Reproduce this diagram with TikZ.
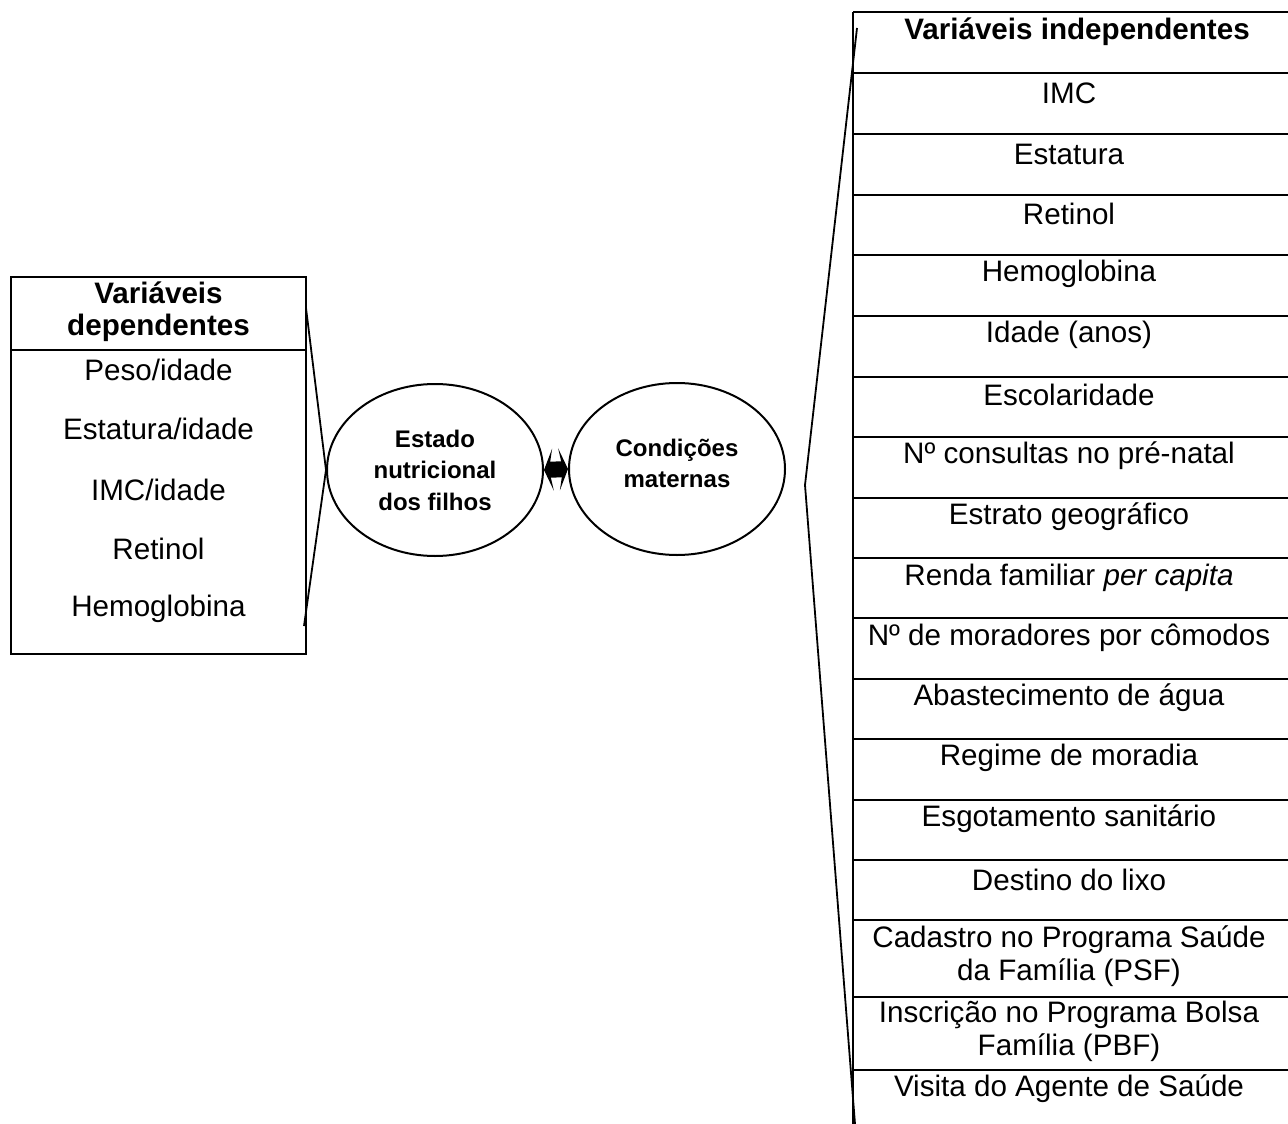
\documentclass[tikz,border=0pt]{standalone}
\usepackage{fontspec}
\setmainfont{Liberation Sans}
\usetikzlibrary{shapes.geometric,arrows.meta}

\begin{document}
\begin{tikzpicture}[
	x=1pt,y=-1pt,
	vtext/.style={inner sep=0pt,align=center,font=\fontsize{29.6}{33}\selectfont},
	vhead/.style={vtext,font=\fontsize{29.6}{32}\selectfont\bfseries},
	enode/.style={ellipse,draw,line width=2pt,inner sep=0pt,minimum width=216,minimum height=172,
		align=center,font=\fontsize{24}{31.5}\selectfont\bfseries},
	gline/.style={draw=black,line width=2.6pt},
	bline/.style={draw=black,line width=1.8pt},
	biarrow/.style={line width=16pt,{Stealth[length=9pt,width=42pt,inset=4pt]}-{Stealth[length=9pt,width=42pt,inset=4pt]}}
	]
	\useasboundingbox (0,0) rectangle (1288,1124);
	% dependentes
	\draw[gline] (11,277) rectangle (306,654);
	\draw[gline] (11,350) -- (306,350);
	\node[vhead] (dh) at (158.5,312) {Variáveis\\dependentes};
	\foreach \i/\y/\t in {1/370/{Peso/idade},2/429/{Estatura/idade},3/490/{IMC/idade},4/549/Retinol,5/609/Hemoglobina}{
		\node[vtext] (d\i) at (158.5,\y) {\t};
	}
	% elipses
	\node[enode] (e1) at (435,470) {Estado\\nutricional\\dos filhos};
	\node[enode] (e2) at (677,469) {Condições\\maternas\\[-20pt]};
	\draw[biarrow] (e1.east) -- (e2.west);
	% independentes
	\foreach \y in {12,73,134,195,255,316,377,437,498,558,618,679,739,800,860,920,997,1070}{
		\draw[gline] (853,\y) -- (1288,\y);
	}
	\draw[gline] (853,12) -- (853,1124);
	\node[vhead] (ih) at (1077,32) {Variáveis independentes};
	\foreach \i/\y/\t in {1/93/IMC,2/154/Estatura,3/214/Retinol,4/274/Hemoglobina,5/335/{Idade (anos)},
		6/395/Escolaridade,7/456/{Nº consultas no pré-natal},8/517/{Estrato geográfico},
		9/578/{Renda familiar \textit{per capita}},10/638/{Nº de moradores por cômodos},
		11/698/{Abastecimento de água},12/758/{Regime de moradia},13/819/{Esgotamento sanitário},
		14/880/{Destino do lixo},15/956/{Cadastro no Programa Saúde\\da Família (PSF)},
		16/1031/{Inscrição no Programa Bolsa\\Família (PBF)},17/1089/{Visita do Agente de Saúde}}{
		\node[vtext] (i\i) at (1069,\y) {\t};
	}
	% chaves
	\coordinate (la) at (306,308);
	\coordinate (lb) at (304,626);
	\coordinate (ra) at (857,28);
	\coordinate (rv) at (805,485);
	\coordinate (rb) at (855,1124);
	\draw[bline] (la) -- (e1.west) -- (lb);
	\draw[bline] (ra) -- (rv) -- (rb);
\end{tikzpicture}
\end{document}
